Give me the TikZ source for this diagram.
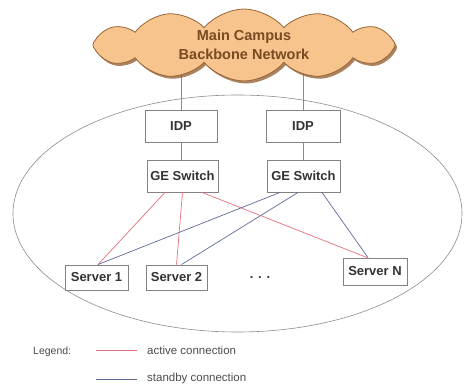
\documentclass[tikz,border=0pt]{standalone}
\usepackage{fontspec}
\setmainfont{Liberation Sans}
\usetikzlibrary{shapes.symbols,shadows,backgrounds}
\definecolor{cloudfill}{RGB}{248,196,142}
\definecolor{cloudedge}{RGB}{150,100,55}
\definecolor{cloudtext}{RGB}{120,75,35}
\definecolor{boxedge}{RGB}{130,130,130}
\definecolor{wire}{RGB}{140,140,140}
\definecolor{activec}{RGB}{230,110,125}
\definecolor{standbyc}{RGB}{95,105,150}
\tikzset{
  devbox/.style={draw=boxedge, line width=0.9pt, fill=white, inner sep=0pt,
    font=\fontsize{13}{15}\selectfont\bfseries, text=black!80},
  uplink/.style={draw=wire, line width=0.7pt},
  activeline/.style={draw=activec, line width=0.7pt},
  standbyline/.style={draw=standbyc, line width=0.7pt},
  legendtext/.style={font=\fontsize{11.5}{13}\selectfont, text=black!70, anchor=west, inner sep=0pt}
}
\begin{document}
\begin{tikzpicture}[x=1pt,y=1pt]
\useasboundingbox (0,0) rectangle (466,386);
% campus ellipse
\draw[draw=wire, line width=0.6pt] (237.5,172.5) ellipse [x radius=224.5, y radius=118.5];
% cloud
\node[cloud, cloud puffs=12, cloud puff arc=100, aspect=4.6, minimum width=302, minimum height=72,
  inner sep=0pt, fill=cloudfill, draw=cloudedge, line width=0.8pt,
  drop shadow={shadow xshift=2pt, shadow yshift=-2.5pt, fill=cloudedge, opacity=0.8},
  align=center, text=cloudtext, font=\fontsize{14.5}{19}\selectfont\bfseries] (cloud) at (244,341)
  {Main Campus\\Backbone Network};
% devices
\node[devbox, minimum width=72, minimum height=32] (idp1) at (181,260) {IDP};
\node[devbox, minimum width=74, minimum height=32] (idp2) at (303,260) {IDP};
\node[devbox, minimum width=71, minimum height=32] (sw1) at (182.5,210) {GE Switch};
\node[devbox, minimum width=73, minimum height=32] (sw2) at (303.5,210) {GE Switch};
\node[devbox, minimum width=63, minimum height=25] (s1) at (96.5,108.5) {Server 1};
\node[devbox, minimum width=61, minimum height=25] (s2) at (176.5,108.5) {Server 2};
\node[devbox, minimum width=64, minimum height=27] (sN) at (375,114.5) {Server N};
\node[font=\fontsize{13}{15}\selectfont\bfseries, text=black!80] (dots) at (260,108) {. . .};
% links
\begin{scope}[on background layer]
\draw[uplink] (idp1.north) -- (idp1.north |- cloud.center);
\draw[uplink] (idp2.north) -- (idp2.north |- cloud.center);
\end{scope}
\draw[uplink] (idp1.south) -- (sw1.north -| idp1.south);
\draw[uplink] (idp2.south) -- (sw2.north -| idp2.south);
\draw[activeline] ([xshift=-17.5]sw1.south) -- ([xshift=1.5]s1.north);
\draw[activeline] (sw1.south) -- (s2.north);
\draw[activeline] ([xshift=19.5]sw1.south) -- ([xshift=-8]sN.north);
\draw[standbyline] ([xshift=-23.5]sw2.south) -- ([xshift=1.5]s1.north);
\draw[standbyline] ([xshift=-5.5]sw2.south) -- ([xshift=5]s2.north);
\draw[standbyline] ([xshift=18.5]sw2.south) -- ([xshift=-7]sN.north);
% legend
\node[legendtext, font=\fontsize{10.5}{12}\selectfont] (leg) at (33,34) {Legend:};
\coordinate (la1) at (96,35.5);
\coordinate (la2) at (137,35.5);
\coordinate (lb1) at (96,6.5);
\coordinate (lb2) at (137,6.5);
\draw[activeline, line width=1pt] (la1) -- (la2);
\draw[standbyline, line width=1pt] (lb1) -- (lb2);
\node[legendtext] (lact) at (147,36) {active connection};
\node[legendtext] (lsby) at (147,7) {standby connection};
\end{tikzpicture}
\end{document}
